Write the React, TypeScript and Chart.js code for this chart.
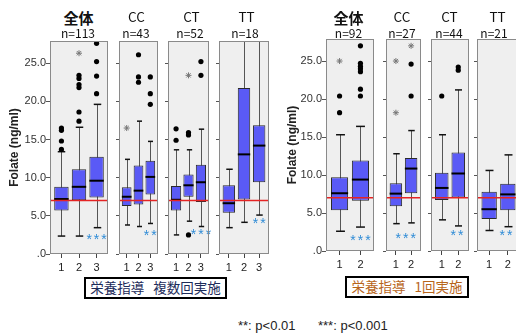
import React, { useEffect, useRef } from 'react';
import { Chart, registerables } from 'chart.js';
Chart.register(...registerables);

// ---------- data: 栄養指導 複数回実施 (left group) ----------
// each box: [lower whisker, Q1, median, Q3, upper whisker]
const M_ALL_BOX = [[2.35, 5.7, 7.2, 8.8, 13.4], [2.35, 7.05, 8.8, 11.1, 16.6], [3.45, 7.4, 9.6, 12.75, 19.6]];
const M_ALL_OUT = [[13.7, 14.8, 16.2, 16.5], [17.4, 18.6, 21.8, 22.2, 23.0, 23.4], [21.0, 23.3, 25.2, 27.6]];
const M_ALL_EXT = [[], [26.3], []];
const M_CC_BOX = [[3.8, 6.3, 7.5, 8.75, 12.4], [3.6, 6.5, 8.3, 11.6, 17.4], [4.0, 7.8, 10.1, 12.2, 14.75]];
const M_CC_OUT = [[], [22.5, 23.2, 26.1], [19.6, 21.0, 23.2]];
const M_CC_EXT = [[16.5], [], []];
const M_CT_BOX = [[2.5, 5.7, 7.1, 8.9, 13.65], [4.3, 7.5, 9.0, 10.4, 13.65], [3.6, 6.8, 9.4, 11.7, 16.35]];
const M_CT_OUT = [[14.9, 16.4], [2.5, 15.6, 15.9], [23.4, 25.2]];
const M_CT_EXT = [[], [23.4], []];
const M_TT_BOX = [[3.45, 5.4, 6.65, 9.0, 11.1], [4.15, 7.15, 13.05, 21.75, 29.0], [5.1, 9.4, 14.2, 16.85, 29.0]];
const M_TT_OUT = [[], [], []];
const M_TT_EXT = [[], [], []];
const M_CATS = ['1', '2', '3'];
const M_TITLES = ['全体', 'CC', 'CT', 'TT'];
const M_N = ['n=113', 'n=43', 'n=52', 'n=18'];
const M_SIG = ['***', '**', '***', '**'];
const M_SIG_X = [3, 3, 3, 3];
const M_SIG_Y = [2.4, 2.9, 3.0, 4.4];

// ---------- data: 栄養指導 1回実施 (right group) ----------
const S_ALL_BOX = [[2.6, 5.35, 7.6, 9.7, 15.3], [3.15, 6.6, 9.4, 11.9, 16.4]];
const S_ALL_OUT = [[18.2, 20.4], [20.4, 21.3, 23.6, 24.0, 24.3, 24.7, 27.0]];
const S_ALL_EXT = [[25.0], []];
const S_CC_BOX = [[3.6, 5.9, 7.55, 8.9, 12.8], [3.7, 7.6, 10.85, 12.25, 15.85]];
const S_CC_OUT = [[], [20.4, 24.6]];
const S_CC_EXT = [[18.2, 25.0], [27.0]];
const S_CT_BOX = [[4.1, 6.7, 8.3, 10.3, 15.3], [3.3, 7.05, 10.2, 12.95, 21.2]];
const S_CT_OUT = [[20.4], [23.8, 24.2]];
const S_CT_EXT = [[], []];
const S_TT_BOX = [[2.7, 4.2, 5.5, 7.8, 10.6], [3.2, 5.35, 7.45, 8.85, 12.65]];
const S_TT_OUT = [[], []];
const S_TT_EXT = [[], []];
const S_CATS = ['1', '2'];
const S_N = ['n=92', 'n=27', 'n=44', 'n=21'];
const S_SIG = ['***', '***', '**', '**'];
const S_SIG_X = [2, 1.65, 1.92, 1.9];
const S_SIG_Y = [1.8, 2.1, 2.5, 2.45];

const REF_LINE = 7.0;
const Y_TICKS = [0, 5, 10, 15, 20, 25];
const Y_MAX = 27.9;
const Y_TITLE = 'Folate (ng/ml)';
const GROUP_LABELS = ['栄養指導', '複数回実施', '1回実施'];
const LEGEND = ['**: p<0.01', '***: p<0.001'];

const LAT = '"Liberation Sans", Arial, sans-serif';
const CJK = '"Noto Sans CJK JP", "Noto Sans", sans-serif';
const BOX_FILL = '#5a5af6';
const PAD_TOP = 12;

type Spec = {
  box: number[][]; out: number[][]; ext: number[][]; cats: string[];
  sig: string; sigX: number; sigY: number;
  left: number; right: number; top: number; bottom: number;
  axis: boolean; axisW: number;
};

function makePlugin(spec: Spec) {
  return {
    id: 'boxplot',
    beforeDraw(chart: any) {
      const { ctx, chartArea: a } = chart;
      ctx.save();
      ctx.fillStyle = '#efefef';
      ctx.fillRect(a.left, a.top, a.right - a.left, a.bottom - a.top);
      ctx.restore();
    },
    beforeDatasetsDraw(chart: any) {
      const { ctx, chartArea: a, scales } = chart;
      const meta = chart.getDatasetMeta(0);
      ctx.save();
      ctx.beginPath();
      ctx.rect(a.left, a.top, a.right - a.left, a.bottom - a.top);
      ctx.clip();
      spec.box.forEach((b, i) => {
        const el = meta.data[i];
        const x = Math.round(scales.x.getPixelForValue(i + 1)) + 0.5;
        const cap = el.width * 0.26;
        const yMin = scales.y.getPixelForValue(b[0]);
        const yMax = scales.y.getPixelForValue(b[4]);
        ctx.strokeStyle = '#555';
        ctx.lineWidth = 1;
        ctx.beginPath();
        ctx.moveTo(x, yMax);
        ctx.lineTo(x, yMin);
        ctx.stroke();
        ctx.strokeStyle = '#111';
        ctx.lineWidth = 1.5;
        [yMin, yMax].forEach((yy) => {
          ctx.beginPath();
          ctx.moveTo(x - cap, yy);
          ctx.lineTo(x + cap, yy);
          ctx.stroke();
        });
      });
      ctx.restore();
    },
    afterDatasetsDraw(chart: any) {
      const { ctx, chartArea: a, scales } = chart;
      const meta = chart.getDatasetMeta(0);
      ctx.save();
      spec.box.forEach((b, i) => {
        const el = meta.data[i];
        const y = scales.y.getPixelForValue(b[2]);
        ctx.strokeStyle = '#000';
        ctx.lineWidth = 2;
        ctx.beginPath();
        ctx.moveTo(el.x - el.width / 2, y);
        ctx.lineTo(el.x + el.width / 2, y);
        ctx.stroke();
      });
      const yr = scales.y.getPixelForValue(REF_LINE);
      ctx.strokeStyle = '#e52424';
      ctx.lineWidth = 1.4;
      ctx.beginPath();
      ctx.moveTo(a.left, yr);
      ctx.lineTo(a.right, yr);
      ctx.stroke();
      ctx.fillStyle = '#2e8bd6';
      ctx.font = `14px ${LAT}`;
      (ctx as any).letterSpacing = '2px';
      ctx.textAlign = 'center';
      ctx.textBaseline = 'alphabetic';
      ctx.fillText(spec.sig, scales.x.getPixelForValue(spec.sigX) + 1, scales.y.getPixelForValue(spec.sigY) + 8);
      ctx.restore();
    },
    afterDraw(chart: any) {
      const { ctx, chartArea: a } = chart;
      ctx.save();
      ctx.strokeStyle = '#8a8a8a';
      ctx.lineWidth = 1;
      ctx.strokeRect(a.left + 0.5, a.top + 0.5, a.right - a.left - 1, a.bottom - a.top - 1);
      ctx.restore();
    },
  };
}

function BoxPanel({ spec }: { spec: Spec }) {
  const ref = useRef<HTMLCanvasElement>(null);
  const axisW = spec.axis ? spec.axisW : 3;
  const w = spec.right - spec.left + axisW;
  const h = spec.bottom - spec.top + PAD_TOP + 20;
  useEffect(() => {
    const n = spec.cats.length;
    const pts = (arr: number[][]) => arr.flatMap((vals, i) => vals.map((v) => ({ x: i + 1, y: v })));
    const chart = new Chart(ref.current as HTMLCanvasElement, {
      type: 'bar',
      data: {
        datasets: [
          {
            type: 'bar',
            data: spec.box.map((b, i) => ({ x: i + 1, y: [b[1], b[3]] })) as any,
            backgroundColor: BOX_FILL,
            borderColor: '#2a2a2a',
            borderWidth: 1,
            borderSkipped: false,
            categoryPercentage: 1,
            barPercentage: 0.82,
            order: 3,
          } as any,
          {
            type: 'line',
            data: pts(spec.out) as any,
            showLine: false,
            pointStyle: 'circle',
            pointRadius: 2.6,
            pointBackgroundColor: '#000',
            pointBorderWidth: 0,
            order: 1,
          } as any,
          {
            type: 'line',
            data: pts(spec.ext) as any,
            showLine: false,
            pointStyle: 'star',
            pointRadius: 3,
            pointBorderColor: '#777',
            pointBorderWidth: 1,
            order: 1,
          } as any,
        ],
      },
      options: {
        animation: false,
        responsive: false,
        devicePixelRatio: 1,
        layout: { padding: { top: PAD_TOP, left: 0, right: 0, bottom: 0 } },
        plugins: { legend: { display: false }, tooltip: { enabled: false } },
        scales: {
          x: {
            type: 'linear',
            offset: false,
            min: 0.35,
            max: n + 0.65,
            afterBuildTicks: (s: any) => { s.ticks = spec.cats.map((_, i) => ({ value: i + 1 })); },
            afterFit: (s: any) => { s.height = 20; },
            ticks: {
              callback: (v: any) => spec.cats[Math.round(Number(v)) - 1] ?? '',
              font: { family: LAT, size: 11 }, color: '#222', padding: 3, maxRotation: 0,
            },
            grid: { offset: false, drawOnChartArea: false, drawTicks: true, tickLength: 4, color: '#444' },
            border: { display: false },
          },
          y: {
            type: 'linear',
            min: 0,
            max: Y_MAX,
            afterBuildTicks: (s: any) => { s.ticks = Y_TICKS.map((v) => ({ value: v })); },
            afterFit: (s: any) => { s.width = axisW; },
            ticks: {
              display: spec.axis,
              callback: (v: any) => (Number(v) === 0 ? '.0' : Number(v).toFixed(1)),
              font: { family: LAT, size: 11 }, color: '#333', padding: 0,
            },
            grid: { drawOnChartArea: false, drawTicks: true, tickLength: spec.axis ? 4 : 3, color: '#555' },
            border: { display: false },
            title: {
              display: spec.axis,
              text: Y_TITLE,
              font: { family: LAT, size: 12, weight: 'bold' },
              color: '#222',
              padding: { top: 7, bottom: 0 },
            },
          },
        },
      } as any,
      plugins: [makePlugin(spec)],
    });
    return () => chart.destroy();
  }, []);
  return (
    <canvas
      ref={ref}
      width={w}
      height={h}
      style={{ position: 'absolute', left: spec.left - axisW, top: spec.top - PAD_TOP, width: w, height: h }}
    />
  );
}

const M_TOP = 41, M_BOTTOM = 254;
const S_TOP = 39, S_BOTTOM = 251;
const M_X = [[50, 113], [117, 163], [166, 214], [219, 269]];
const S_X = [[326, 379], [384, 426], [430, 473], [477, 520]];

const M_DATA = [
  [M_ALL_BOX, M_ALL_OUT, M_ALL_EXT], [M_CC_BOX, M_CC_OUT, M_CC_EXT],
  [M_CT_BOX, M_CT_OUT, M_CT_EXT], [M_TT_BOX, M_TT_OUT, M_TT_EXT],
];
const S_DATA = [
  [S_ALL_BOX, S_ALL_OUT, S_ALL_EXT], [S_CC_BOX, S_CC_OUT, S_CC_EXT],
  [S_CT_BOX, S_CT_OUT, S_CT_EXT], [S_TT_BOX, S_TT_OUT, S_TT_EXT],
];

const M_SPECS: Spec[] = M_DATA.map((d, i) => ({
  box: d[0], out: d[1], ext: d[2], cats: M_CATS,
  sig: M_SIG[i], sigX: M_SIG_X[i], sigY: M_SIG_Y[i],
  left: M_X[i][0], right: M_X[i][1], top: M_TOP, bottom: M_BOTTOM,
  axis: i === 0, axisW: 50,
}));
const S_SPECS: Spec[] = S_DATA.map((d, i) => ({
  box: d[0], out: d[1], ext: d[2], cats: S_CATS,
  sig: S_SIG[i], sigX: S_SIG_X[i], sigY: S_SIG_Y[i],
  left: S_X[i][0], right: S_X[i][1], top: S_TOP, bottom: S_BOTTOM,
  axis: i === 0, axisW: 48,
}));

const M_TITLE_X = [78.5, 136.5, 191.5, 246.5];
const M_N_X = [78, 136, 190, 245];
const S_TITLE_X = [348.5, 402, 449.5, 497.5];
const S_N_X = [348.5, 402, 449, 494];

function Txt({ x, y, children, style }: any) {
  return (
    <div style={{ position: 'absolute', left: x, top: y, transform: 'translate(-50%,-50%)', whiteSpace: 'nowrap', lineHeight: 1, ...style }}>
      {children}
    </div>
  );
}

export default function App() {
  const titleStyle = (i: number) => (i === 0
    ? { fontFamily: CJK, fontWeight: 700, fontSize: 15, color: '#111' }
    : { fontFamily: CJK, fontWeight: 400, fontSize: 13.5, color: '#111' });
  const nStyle = { fontFamily: CJK, fontSize: 12, color: '#111' };
  return (
    <div style={{ position: 'absolute', left: 0, top: 0, width: 516, height: 334, overflow: 'hidden', background: '#fff' }}>
      {M_SPECS.map((s, i) => <BoxPanel key={'m' + i} spec={s} />)}
      {S_SPECS.map((s, i) => <BoxPanel key={'s' + i} spec={s} />)}
      {M_TITLES.map((t, i) => (
        <React.Fragment key={'mt' + i}>
          <Txt x={M_TITLE_X[i]} y={17} style={titleStyle(i)}>{t}</Txt>
          <Txt x={M_N_X[i]} y={33} style={nStyle}>{M_N[i]}</Txt>
          <Txt x={S_TITLE_X[i]} y={16.5} style={titleStyle(i)}>{t}</Txt>
          <Txt x={S_N_X[i]} y={32.5} style={nStyle}>{S_N[i]}</Txt>
        </React.Fragment>
      ))}
      <div style={{ position: 'absolute', left: 84, top: 277, width: 143, height: 22, boxSizing: 'border-box', border: '2px solid #000', display: 'flex', alignItems: 'center', justifyContent: 'center', fontFamily: CJK, fontSize: 13.5, color: '#1c2b5a', whiteSpace: 'nowrap', lineHeight: 1 }}>
        <span>{GROUP_LABELS[0]}</span><span style={{ marginLeft: 9 }}>{GROUP_LABELS[1]}</span>
      </div>
      <div style={{ position: 'absolute', left: 345, top: 276, width: 124, height: 22, boxSizing: 'border-box', border: '2px solid #000', display: 'flex', alignItems: 'center', justifyContent: 'center', fontFamily: CJK, fontSize: 13.5, color: '#b8651b', whiteSpace: 'nowrap', lineHeight: 1 }}>
        <span>{GROUP_LABELS[0]}</span><span style={{ marginLeft: 9 }}>{GROUP_LABELS[2]}</span>
      </div>
      <div style={{ position: 'absolute', left: 238, top: 325, transform: 'translateY(-50%)', fontFamily: LAT, fontSize: 13, color: '#222', whiteSpace: 'nowrap', lineHeight: 1 }}>{LEGEND[0]}</div>
      <div style={{ position: 'absolute', left: 318, top: 325, transform: 'translateY(-50%)', fontFamily: LAT, fontSize: 13, color: '#222', whiteSpace: 'nowrap', lineHeight: 1 }}>{LEGEND[1]}</div>
    </div>
  );
}
